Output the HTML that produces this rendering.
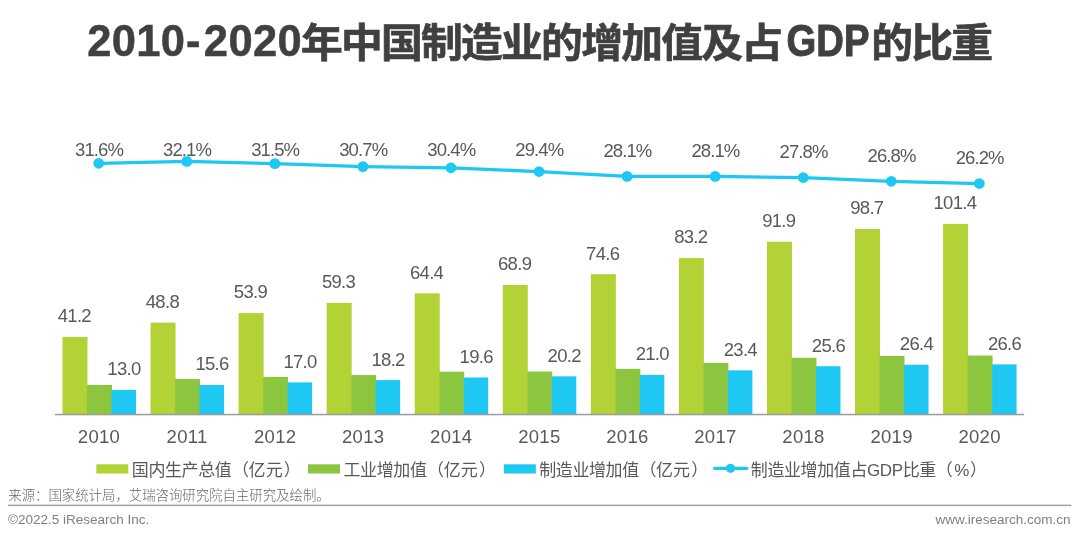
<!DOCTYPE html>
<html lang="zh-CN"><head><meta charset="utf-8">
<title>2010-2020年中国制造业的增加值及占GDP的比重</title>
<style>
html,body{margin:0;padding:0;background:#fff;}
body{width:1080px;height:540px;overflow:hidden;position:relative;font-family:"Liberation Sans", "Noto Sans CJK SC", sans-serif;}
svg{position:absolute;left:0;top:0;display:block;will-change:transform;}
svg text{font-family:"Liberation Sans", "Noto Sans CJK SC", sans-serif;}
.title{font-weight:bold;fill:#404040;}
.tl{font-size:43.5px;stroke:#404040;stroke-width:0.5px;}
.tg{font-size:44.5px;stroke:#404040;stroke-width:1px;}
.tc{font-size:41px;letter-spacing:-1.75px;stroke:#404040;stroke-width:0.7px;}
.dl{font-size:18.5px;fill:#595959;text-anchor:middle;letter-spacing:-0.7px;}
.pc{letter-spacing:-0.9px;}
.ax{font-size:18.5px;fill:#595959;text-anchor:middle;letter-spacing:0.3px;}
.lg{font-size:17px;fill:#595959;letter-spacing:-0.4px;}
.src{font-size:13.4px;fill:#666666;font-weight:300;}
.ft{font-size:13.5px;fill:#808080;}
</style></head><body>
<svg width="1080" height="540" viewBox="0 0 1080 540">
<rect x="0" y="0" width="1080" height="540" fill="#ffffff"/>
<text class="title tl" y="56"><tspan x="87.3" style="letter-spacing:0.3px">2010</tspan><tspan x="186.1">-</tspan><tspan x="203.8" style="letter-spacing:0.4px">2020</tspan></text>
<text class="title tc" transform="translate(301 56.8) scale(1.02 0.96)" x="0" y="0">年中国制造业的增加值及占</text>
<text class="title tg" transform="translate(786.5 56) scale(0.86 1)" x="0" y="0">GDP</text>
<text class="title tc" transform="translate(871.3 56.8) scale(1.02 0.96)" x="0" y="0">的比重</text>
<rect x="62.48" y="336.93" width="25" height="77.37" fill="#b2d235"/>
<rect x="86.98" y="384.91" width="25" height="29.39" fill="#8cc63f"/>
<rect x="111.48" y="389.89" width="24.5" height="24.41" fill="#1fc8f3"/>
<text class="dl" x="74.33" y="322.33">41.2</text>
<text class="dl" x="123.93" y="375.29">13.0</text>
<text class="ax" x="99.03" y="443">2010</text>
<rect x="150.54" y="322.65" width="25" height="91.65" fill="#b2d235"/>
<rect x="175.04" y="378.99" width="25" height="35.31" fill="#8cc63f"/>
<rect x="199.54" y="385" width="24.5" height="29.3" fill="#1fc8f3"/>
<text class="dl" x="162.39" y="308.05">48.8</text>
<text class="dl" x="211.99" y="370.4">15.6</text>
<text class="ax" x="187.09" y="443">2011</text>
<rect x="238.6" y="313.08" width="25" height="101.22" fill="#b2d235"/>
<rect x="263.1" y="376.93" width="25" height="37.37" fill="#8cc63f"/>
<rect x="287.6" y="382.37" width="24.5" height="31.93" fill="#1fc8f3"/>
<text class="dl" x="250.45" y="298.48">53.9</text>
<text class="dl" x="300.05" y="367.77">17.0</text>
<text class="ax" x="275.15" y="443">2012</text>
<rect x="326.66" y="302.93" width="25" height="111.37" fill="#b2d235"/>
<rect x="351.16" y="375.05" width="25" height="39.25" fill="#8cc63f"/>
<rect x="375.66" y="380.12" width="24.5" height="34.18" fill="#1fc8f3"/>
<text class="dl" x="338.51" y="288.33">59.3</text>
<text class="dl" x="388.11" y="365.52">18.2</text>
<text class="ax" x="363.21" y="443">2013</text>
<rect x="414.72" y="293.36" width="25" height="120.94" fill="#b2d235"/>
<rect x="439.22" y="371.67" width="25" height="42.63" fill="#8cc63f"/>
<rect x="463.72" y="377.49" width="24.5" height="36.81" fill="#1fc8f3"/>
<text class="dl" x="426.57" y="278.76">64.4</text>
<text class="dl" x="476.17" y="362.89">19.6</text>
<text class="ax" x="451.27" y="443">2014</text>
<rect x="502.78" y="284.91" width="25" height="129.39" fill="#b2d235"/>
<rect x="527.28" y="371.48" width="25" height="42.82" fill="#8cc63f"/>
<rect x="551.78" y="376.36" width="24.5" height="37.94" fill="#1fc8f3"/>
<text class="dl" x="514.63" y="270.31">68.9</text>
<text class="dl" x="564.23" y="361.76">20.2</text>
<text class="ax" x="539.33" y="443">2015</text>
<rect x="590.84" y="274.2" width="25" height="140.1" fill="#b2d235"/>
<rect x="615.34" y="368.85" width="25" height="45.45" fill="#8cc63f"/>
<rect x="639.84" y="374.86" width="24.5" height="39.44" fill="#1fc8f3"/>
<text class="dl" x="602.69" y="259.6">74.6</text>
<text class="dl" x="652.29" y="360.26">21.0</text>
<text class="ax" x="627.39" y="443">2016</text>
<rect x="678.9" y="258.05" width="25" height="156.25" fill="#b2d235"/>
<rect x="703.4" y="362.84" width="25" height="51.46" fill="#8cc63f"/>
<rect x="727.9" y="370.35" width="24.5" height="43.95" fill="#1fc8f3"/>
<text class="dl" x="690.75" y="243.45">83.2</text>
<text class="dl" x="740.35" y="355.75">23.4</text>
<text class="ax" x="715.45" y="443">2017</text>
<rect x="766.96" y="241.71" width="25" height="172.59" fill="#b2d235"/>
<rect x="791.46" y="357.77" width="25" height="56.53" fill="#8cc63f"/>
<rect x="815.96" y="366.22" width="24.5" height="48.08" fill="#1fc8f3"/>
<text class="dl" x="778.81" y="227.11">91.9</text>
<text class="dl" x="828.41" y="351.62">25.6</text>
<text class="ax" x="803.51" y="443">2018</text>
<rect x="855.02" y="228.94" width="25" height="185.36" fill="#b2d235"/>
<rect x="879.52" y="355.89" width="25" height="58.41" fill="#8cc63f"/>
<rect x="904.02" y="364.72" width="24.5" height="49.58" fill="#1fc8f3"/>
<text class="dl" x="866.87" y="214.34">98.7</text>
<text class="dl" x="916.47" y="350.12">26.4</text>
<text class="ax" x="891.57" y="443">2019</text>
<rect x="943.08" y="223.87" width="25" height="190.43" fill="#b2d235"/>
<rect x="967.58" y="355.52" width="25" height="58.78" fill="#8cc63f"/>
<rect x="992.08" y="364.35" width="24.5" height="49.95" fill="#1fc8f3"/>
<text class="dl" x="954.93" y="209.27">101.4</text>
<text class="dl" x="1004.53" y="349.75">26.6</text>
<text class="ax" x="979.63" y="443">2020</text>
<rect x="55" y="413.8" width="969" height="1.5" fill="#9c9c9c"/>
<polyline fill="none" stroke="#1fc8f3" stroke-width="3.3" stroke-linejoin="round" stroke-linecap="round" points="98.73,163.3 186.79,161.43 274.85,163.68 362.91,166.68 450.97,167.8 539.03,171.55 627.09,176.43 715.15,176.43 803.21,177.55 891.27,181.3 979.33,183.55"/>
<circle cx="98.73" cy="163.3" r="5.4" fill="#1fc8f3"/>
<circle cx="186.79" cy="161.43" r="5.4" fill="#1fc8f3"/>
<circle cx="274.85" cy="163.68" r="5.4" fill="#1fc8f3"/>
<circle cx="362.91" cy="166.68" r="5.4" fill="#1fc8f3"/>
<circle cx="450.97" cy="167.8" r="5.4" fill="#1fc8f3"/>
<circle cx="539.03" cy="171.55" r="5.4" fill="#1fc8f3"/>
<circle cx="627.09" cy="176.43" r="5.4" fill="#1fc8f3"/>
<circle cx="715.15" cy="176.43" r="5.4" fill="#1fc8f3"/>
<circle cx="803.21" cy="177.55" r="5.4" fill="#1fc8f3"/>
<circle cx="891.27" cy="181.3" r="5.4" fill="#1fc8f3"/>
<circle cx="979.33" cy="183.55" r="5.4" fill="#1fc8f3"/>
<text class="dl pc" x="99.03" y="156.35">31.6%</text>
<text class="dl pc" x="187.09" y="156.35">32.1%</text>
<text class="dl pc" x="275.15" y="156.35">31.5%</text>
<text class="dl pc" x="363.21" y="156.35">30.7%</text>
<text class="dl pc" x="451.27" y="156.35">30.4%</text>
<text class="dl pc" x="539.33" y="156.35">29.4%</text>
<text class="dl pc" x="627.39" y="157.1">28.1%</text>
<text class="dl pc" x="715.45" y="156.6">28.1%</text>
<text class="dl pc" x="803.51" y="158.1">27.8%</text>
<text class="dl pc" x="891.57" y="162.1">26.8%</text>
<text class="dl pc" x="979.63" y="163.85">26.2%</text>
<rect x="96.3" y="464.3" width="32" height="9.2" fill="#b2d235"/>
<text class="lg" x="131.8" y="475.8">国内生产总值<tspan dx="0.6">（亿</tspan><tspan dx="0.5">元</tspan><tspan dx="1.5">）</tspan></text>
<rect x="308" y="464.3" width="32" height="9.2" fill="#8cc63f"/>
<text class="lg" x="343.5" y="475.8">工业增加值<tspan dx="0.6">（亿</tspan><tspan dx="0.5">元</tspan><tspan dx="1.5">）</tspan></text>
<rect x="503.8" y="464.3" width="32" height="9.2" fill="#1fc8f3"/>
<text class="lg" x="539.2" y="475.8">制造业增加值<tspan dx="0.6">（亿</tspan><tspan dx="0.5">元</tspan><tspan dx="1.5">）</tspan></text>
<line x1="714.6" y1="468.3" x2="746.8" y2="468.3" stroke="#1fc8f3" stroke-width="3.2" stroke-linecap="round"/>
<circle cx="730.5" cy="468.3" r="4.6" fill="#1fc8f3"/>
<text class="lg" x="750.8" y="475.8">制造业增加值占GDP比重<tspan style="letter-spacing:1.5px">（</tspan><tspan style="letter-spacing:0.5px">%</tspan>）</text>
<text class="src" x="8.3" y="500">来源：国家统计局，艾瑞咨询研究院自主研究及绘制。</text>
<rect x="8" y="504.6" width="1063.3" height="1.5" fill="#a3a3a3"/>
<text class="ft" x="8" y="524.3">©2022.5 iResearch Inc.</text>
<text class="ft" x="1070.5" y="524.3" text-anchor="end">www.iresearch.com.cn</text>
</svg>
</body></html>
